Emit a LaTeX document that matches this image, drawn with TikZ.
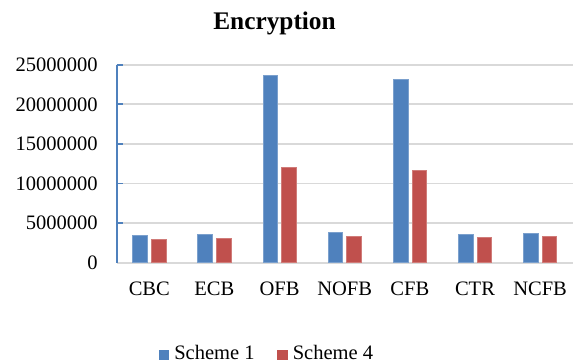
\documentclass[tikz,border=0pt]{standalone}
\usepackage{fontspec}
\setmainfont{Liberation Serif}
\usepackage{tikz}

\definecolor{schemeblue}{RGB}{79,129,189}
\definecolor{schemered}{RGB}{192,80,77}
\definecolor{gridgray}{RGB}{217,217,217}

\tikzset{
  barone/.style={fill=schemeblue, draw=schemeblue!75!white, line width=0.6},
  barfour/.style={fill=schemered, draw=schemered!75!white, line width=0.6},
  gridline/.style={draw=gridgray, line width=1.3},
  ticklabel/.style={anchor=east, inner sep=0.75pt, font=\fontsize{15.4}{18}\selectfont},
  catlabel/.style={anchor=base, inner sep=0.75pt, font=\fontsize{15.4}{18}\selectfont},
}

\begin{document}
\begin{tikzpicture}[x=0.75pt,y=0.75pt,yscale=-1,xscale=1]
%set diagram left start at 0, and has height of 364
\useasboundingbox (0,0) rectangle (582,364);

% Title
\node (title) [anchor=base, inner sep=0.75pt, font=\fontsize{19}{22}\selectfont\bfseries] at (274.5,29.5) {Encryption};

%Grid lines
\draw [gridline] (116.7,64.7) -- (572.7,64.7);
\draw [gridline] (116.7,104.3) -- (572.7,104.3);
\draw [gridline] (116.7,143.9) -- (572.7,143.9);
\draw [gridline] (116.7,183.5) -- (572.7,183.5);
\draw [gridline] (116.7,223.1) -- (572.7,223.1);
\draw [gridline] (116.7,262.7) -- (572.7,262.7);

%Vertical axis with ticks
\draw [schemeblue, line width=1.3] (116.7,262.7) -- (116.7,64.7);
\draw [schemeblue, line width=1.3] (116.7,64.7) -- (122.7,64.7);
\draw [schemeblue, line width=1.3] (116.7,104.3) -- (122.7,104.3);
\draw [schemeblue, line width=1.3] (116.7,143.9) -- (122.7,143.9);
\draw [schemeblue, line width=1.3] (116.7,183.5) -- (122.7,183.5);
\draw [schemeblue, line width=1.3] (116.7,223.1) -- (122.7,223.1);

% Tick labels
\node (y25) [ticklabel] at (99,64.7) {25000000};
\node (y20) [ticklabel] at (99,104.3) {20000000};
\node (y15) [ticklabel] at (99,143.9) {15000000};
\node (y10) [ticklabel] at (99,183.5) {10000000};
\node (y05) [ticklabel] at (99,223.1) {5000000};
\node (y00) [ticklabel] at (99,262.7) {0};

%Bars: CBC
\draw [barone] (132.7,262.7) rectangle (147.3,235.3);
\draw [barfour] (151.3,262.7) rectangle (165.9,239);
%Bars: ECB
\draw [barone] (197.8,262.7) rectangle (212.4,234.3);
\draw [barfour] (216.4,262.7) rectangle (231,238);
%Bars: OFB
\draw [barone] (263,262.7) rectangle (277.6,75.7);
\draw [barfour] (281.6,262.7) rectangle (296.2,167.3);
%Bars: NOFB
\draw [barone] (328.1,262.7) rectangle (342.7,232.3);
\draw [barfour] (346.7,262.7) rectangle (361.3,236.3);
%Bars: CFB
\draw [barone] (393.3,262.7) rectangle (407.9,79);
\draw [barfour] (411.9,262.7) rectangle (426.5,170);
%Bars: CTR
\draw [barone] (458.4,262.7) rectangle (473,234);
\draw [barfour] (477,262.7) rectangle (491.6,237.7);
%Bars: NCFB
\draw [barone] (523.5,262.7) rectangle (538.1,233);
\draw [barfour] (542.1,262.7) rectangle (556.7,236.7);

% Category labels
\node (cbc) [catlabel] at (149.3,295) {CBC};
\node (ecb) [catlabel] at (214.4,295) {ECB};
\node (ofb) [catlabel] at (279.6,295) {OFB};
\node (nofb) [catlabel] at (344.7,295) {NOFB};
\node (cfb) [catlabel] at (409.9,295) {CFB};
\node (ctr) [catlabel] at (475,295) {CTR};
\node (ncfb) [catlabel] at (540.1,295) {NCFB};

% Legend
\fill [schemeblue] (158.5,349.5) rectangle (169,359.5);
\node (leg1) [anchor=base west, inner sep=0.75pt, font=\fontsize{15.4}{18}\selectfont] at (173,359.5) {Scheme 1};
\fill [schemered] (277,349.5) rectangle (287.5,359.5);
\node (leg4) [anchor=base west, inner sep=0.75pt, font=\fontsize{15.4}{18}\selectfont] at (291.5,359.5) {Scheme 4};

\end{tikzpicture}
\end{document}
